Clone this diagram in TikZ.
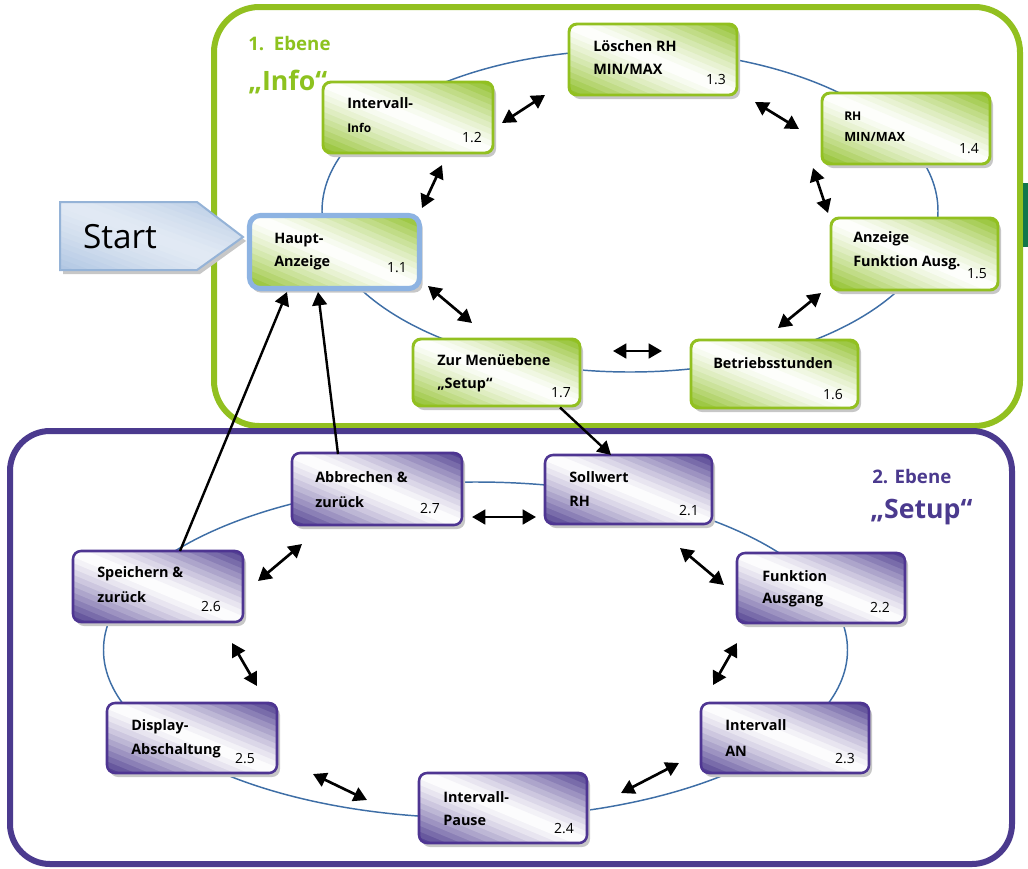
\documentclass[tikz,border=0pt]{standalone}
\usepackage{fontspec}
\setmainfont{Open Sans}
\usetikzlibrary{arrows.meta,fit}
\definecolor{lgreen}{HTML}{92C020}
\definecolor{fgreen}{HTML}{8CBE22}
\definecolor{tgreen}{HTML}{8DC21F}
\definecolor{dpurple}{HTML}{4B3A8E}
\definecolor{fpurple}{HTML}{4A388C}
\definecolor{bpurple}{HTML}{4E3592}
\definecolor{ringblue}{HTML}{3E6EA6}
\definecolor{hblue}{HTML}{8DB3E2}
\definecolor{sblue}{HTML}{AFC5E2}
\definecolor{slight}{HTML}{E2EAF4}
\definecolor{sborder}{HTML}{95B3D7}
\definecolor{dgreen}{HTML}{12774A}
\newcommand\gradfill[6]{%
  \foreach \k in {0,...,23}{%
    \pgfmathsetmacro\gfa{\k/12}%
    \pgfmathsetmacro\gfb{(\k+1.2)/12}%
    \pgfmathsetmacro\gd{(\k+0.5)/12-1}%
    \pgfmathsetmacro\gm{veclen(\gd,0)}%
    \pgfmathsetmacro\gpc{100*pow(\gm,1.3)}%
    \fill[#5!\gpc!#6] ({#1+(\gfa+1)*(#3-#1)},{#4+(#4-#2)}) -- ({#1+(\gfb+1)*(#3-#1)},{#4+(#4-#2)}) -- ({#1+(\gfb-2)*(#3-#1)},{#4-2*(#4-#2)}) -- ({#1+(\gfa-2)*(#3-#1)},{#4-2*(#4-#2)}) -- cycle;
  }}
\newcommand\shbox[8]{%
  \fill[black!22, rounded corners=6pt] (#3+3,#4+4) rectangle (#5+3,#6+4);
  \begin{scope}
    \clip[rounded corners=6pt] (#3,#4) rectangle (#5,#6);
    \gradfill{#3}{#4}{#5}{#6}{#7}{#8}
  \end{scope}
  \node[#1, fit={(#3,#4) (#5,#6)}] (#2) {};}
\begin{document}
\begin{tikzpicture}[x=0.75pt,y=-0.75pt,
  gbox/.style={draw=lgreen, line width=2.2pt, rounded corners=6pt, inner sep=0pt},
  pbox/.style={draw=bpurple, line width=1.9pt, rounded corners=6pt, inner sep=0pt},
  hbox/.style={draw=hblue, line width=3.8pt, rounded corners=8pt, inner sep=0pt},
  lb/.style={anchor=west, font=\bfseries\fontsize{10.8}{12}\selectfont, inner sep=0pt},
  lbs/.style={anchor=west, font=\bfseries\fontsize{9}{10}\selectfont, inner sep=0pt},
  lbm/.style={anchor=west, font=\bfseries\fontsize{9.5}{11}\selectfont, inner sep=0pt},
  num/.style={font=\fontsize{10.5}{12}\selectfont, inner sep=0pt},
  dbl/.style={{Triangle[length=10pt,width=11pt]}-{Triangle[length=10pt,width=11pt]}, line width=2pt, black},
  sgl/.style={-{Triangle[length=10pt,width=11pt]}, line width=1.8pt, black},
  ring/.style={draw=ringblue, line width=1.1pt}
]
\useasboundingbox (0,0) rectangle (1028,868);

% frames
\draw[lgreen, line width=4.5pt, rounded corners=34pt] (214,7) rectangle (1020,426);
\fill[dgreen] (1023,183) rectangle (1028,247);
\draw[dpurple, line width=4.5pt, rounded corners=30pt] (10,431) rectangle (1012,864);

% titles
\node[anchor=base west, inner sep=0pt, text=tgreen, font=\bfseries\fontsize{14}{16}\selectfont] (t1a) at (248,50) {1.\ \ Ebene};
\node[anchor=base west, inner sep=0pt, text=tgreen, font=\bfseries\fontsize{20}{22}\selectfont] (t1b) at (248,90) {„Info“};
\node[anchor=base west, inner sep=0pt, text=dpurple, font=\bfseries\fontsize{14}{16}\selectfont] (t2a) at (872,483) {2. Ebene};
\node[anchor=base west, inner sep=0pt, text=dpurple, font=\bfseries\fontsize{20}{22}\selectfont] (t2b) at (870,518) {„Setup“};

% rings
\draw[ring] (630,211) ellipse [x radius=308, y radius=161];
\draw[ring] (475.5,650) ellipse [x radius=372, y radius=168];

% start arrow
\fill[black!22] (63,206) -- (200,206) -- (246,241) -- (200,274) -- (63,274) -- cycle;
\begin{scope}
  \clip (60,202) -- (197,202) -- (243,237) -- (197,270) -- (60,270) -- cycle;
  \gradfill{60}{202}{243}{270}{sblue}{slight}
\end{scope}
\draw[sborder, line width=1.5pt] (60,202) -- (197,202) -- (243,237) -- (197,270) -- (60,270) -- cycle;
\node[font=\fontsize{25}{28}\selectfont, inner sep=0pt] (start) at (120,237) {Start};

% level 1 boxes
\shbox{hbox}{n11}{249.5}{215.5}{419.5}{288.5}{fgreen}{white}
\shbox{gbox}{n12}{323}{82}{493}{153}{fgreen}{white}
\shbox{gbox}{n13}{569}{24}{737}{95}{fgreen}{white}
\shbox{gbox}{n14}{822}{93}{990}{164}{fgreen}{white}
\shbox{gbox}{n15}{831}{218}{998}{290}{fgreen}{white}
\shbox{gbox}{n16}{691}{340}{858}{408}{fgreen}{white}
\shbox{gbox}{n17}{413}{339}{580}{406}{fgreen}{white}

% level 2 boxes
\shbox{pbox}{n21}{545}{455}{712}{524}{fpurple}{white}
\shbox{pbox}{n22}{737}{553}{905}{623}{fpurple}{white}
\shbox{pbox}{n23}{701}{703}{869}{773}{fpurple}{white}
\shbox{pbox}{n24}{419}{773}{587}{843}{fpurple}{white}
\shbox{pbox}{n25}{107}{703}{277}{773}{fpurple}{white}
\shbox{pbox}{n26}{73}{551}{243}{622}{fpurple}{white}
\shbox{pbox}{n27}{292}{453}{462}{525}{fpurple}{white}

% texts level 1
\node[lb] (x11a) at (274,240) {Haupt-};
\node[lb] (x11b) at (274,263) {Anzeige};
\node[num] (x11n) at (397,268) {1.1};
\node[lb] (x12a) at (347,103) {Intervall-};
\node[lbs] (x12b) at (347,128) {Info};
\node[num] (x12n) at (472,138) {1.2};
\node[lb] (x13a) at (593,46) {Löschen RH};
\node[lb] (x13b) at (593,69) {MIN/MAX};
\node[num] (x13n) at (716,80) {1.3};
\node[lbs] (x14a) at (844,116) {RH};
\node[lbm] (x14b) at (844,137) {MIN/MAX};
\node[num] (x14n) at (969,149) {1.4};
\node[lb] (x15a) at (853,239) {Anzeige};
\node[lb] (x15b) at (853,263) {Funktion Ausg.};
\node[num] (x15n) at (977,274) {1.5};
\node[lb] (x16a) at (713,363) {Betriebsstunden};
\node[num] (x16n) at (833,395) {1.6};
\node[lb] (x17a) at (437,360) {Zur Menüebene};
\node[lb] (x17b) at (437,385) {„Setup“};
\node[num] (x17n) at (561,393) {1.7};

% texts level 2
\node[lb] (x21a) at (569,477) {Sollwert};
\node[lb] (x21b) at (569,501) {RH};
\node[num] (x21n) at (689,511) {2.1};
\node[lb] (x22a) at (762,576) {Funktion};
\node[lb] (x22b) at (762,600) {Ausgang};
\node[num] (x22n) at (880,608) {2.2};
\node[lb] (x23a) at (725,725) {Intervall};
\node[lb] (x23b) at (725,751) {AN};
\node[num] (x23n) at (845,759) {2.3};
\node[lb] (x24a) at (443,797) {Intervall-};
\node[lb] (x24b) at (443,820) {Pause};
\node[num] (x24n) at (564,829) {2.4};
\node[lb] (x25a) at (131,727) {Display-};
\node[lb] (x25b) at (131,751) {Abschaltung};
\node[num] (x25n) at (245,759) {2.5};
\node[lb] (x26a) at (97,574) {Speichern \&};
\node[lb] (x26b) at (97,597) {zurück};
\node[num] (x26n) at (211,607) {2.6};
\node[lb] (x27a) at (315,477) {Abbrechen \&};
\node[lb] (x27b) at (315,502) {zurück};
\node[num] (x27n) at (430,509) {2.7};

% arrow end coordinates
\coordinate (a1a) at (422,208); \coordinate (a1b) at (442,165);
\coordinate (a2a) at (502,123); \coordinate (a2b) at (545,95);
\coordinate (a3a) at (755,102); \coordinate (a3b) at (799,129);
\coordinate (a4a) at (813,168); \coordinate (a4b) at (828,213);
\coordinate (a5a) at (821,293); \coordinate (a5b) at (778,328);
\coordinate (a6a) at (613,351); \coordinate (a6b) at (662,351);
\coordinate (a7a) at (428,286); \coordinate (a7b) at (472,323);
\coordinate (b1a) at (472,517); \coordinate (b1b) at (536,517);
\coordinate (b2a) at (680,548); \coordinate (b2b) at (724,585);
\coordinate (b3a) at (737,643); \coordinate (b3b) at (713,685);
\coordinate (b4a) at (679,763); \coordinate (b4b) at (621,793);
\coordinate (b5a) at (313,774); \coordinate (b5b) at (367,800);
\coordinate (b6a) at (232,643); \coordinate (b6b) at (257,686);
\coordinate (b7a) at (258,581); \coordinate (b7b) at (302,544);

\draw[dbl] (a1a) -- (a1b);
\draw[dbl] (a2a) -- (a2b);
\draw[dbl] (a3a) -- (a3b);
\draw[dbl] (a4a) -- (a4b);
\draw[dbl] (a5a) -- (a5b);
\draw[dbl] (a6a) -- (a6b);
\draw[dbl] (a7a) -- (a7b);
\draw[dbl] (b1a) -- (b1b);
\draw[dbl] (b2a) -- (b2b);
\draw[dbl] (b3a) -- (b3b);
\draw[dbl] (b4a) -- (b4b);
\draw[dbl] (b5a) -- (b5b);
\draw[dbl] (b6a) -- (b6b);
\draw[dbl] (b7a) -- (b7b);

% single arrows
\draw[sgl] (n17.south -| 560,0) -- (611,455);
\coordinate (s26) at (180,551); \coordinate (e26) at (287,292);
\coordinate (s27) at (338,454); \coordinate (e27) at (318,292);
\draw[sgl] (s26) -- (e26);
\draw[sgl] (s27) -- (e27);
\end{tikzpicture}
\end{document}
